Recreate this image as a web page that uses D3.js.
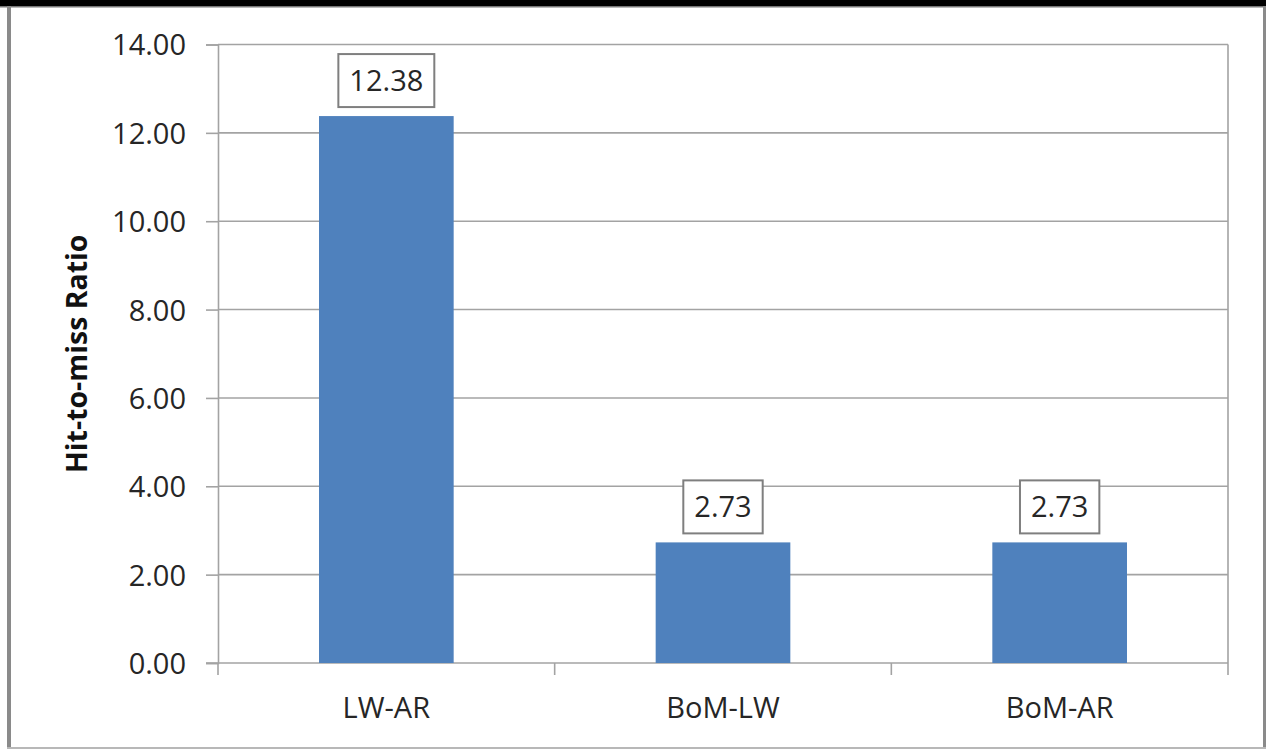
<!DOCTYPE html>
<html>
<head>
<meta charset="utf-8">
<script src="https://cdn.jsdelivr.net/npm/d3@7"></script>
<style>
  html, body { margin: 0; padding: 0; background: #fff; }
  svg { display: block; }
  text { font-family: "Open Sans", "DejaVu Sans", sans-serif; }
</style>
</head>
<body>
<svg id="chart" width="1266" height="749"></svg>
<script>
// ---- data ----
const categories = ["LW-AR", "BoM-LW", "BoM-AR"];
const values = [12.38, 2.73, 2.73];
const valueLabels = ["12.38", "2.73", "2.73"];
const yTicks = [0, 2, 4, 6, 8, 10, 12, 14];
const yTitle = "Hit-to-miss Ratio";

// ---- layout ----
const W = 1266, H = 749;
const plot = { left: 218, right: 1228, top: 44.5, bottom: 663 };
const svg = d3.select("#chart");

// outer frame
svg.append("rect").attr("x", 0).attr("y", 0).attr("width", W).attr("height", H).attr("fill", "#ffffff");
svg.append("rect").attr("x", 0).attr("y", 0).attr("width", W).attr("height", 6).attr("fill", "#000");
svg.append("rect").attr("x", 0).attr("y", 6).attr("width", W).attr("height", 1.5).attr("fill", "#777");
svg.append("rect").attr("x", 7).attr("y", 6).attr("width", 4).attr("height", H - 6).attr("fill", "#8a8a8a");
svg.append("rect").attr("x", 1263).attr("y", 6).attr("width", 3).attr("height", H - 6).attr("fill", "#8a8a8a");
svg.append("rect").attr("x", 7).attr("y", 747).attr("width", W - 7).attr("height", 2).attr("fill", "#b8b8b8");

const x = d3.scaleBand().domain(categories).range([plot.left, plot.right]).paddingInner(0.6).paddingOuter(0.3);
const xb = d3.scaleBand().domain(categories).range([plot.left, plot.right]);
const y = d3.scaleLinear().domain([0, 14]).range([plot.bottom, plot.top]);

const gridColor = "#a3a3a3";

// horizontal gridlines
svg.append("g").selectAll("line").data(yTicks.filter(d => d > 0)).join("line")
  .attr("x1", plot.left).attr("x2", plot.right)
  .attr("y1", d => y(d)).attr("y2", d => y(d))
  .attr("stroke", gridColor).attr("stroke-width", 1.6);

// right plot border
svg.append("line").attr("x1", plot.right).attr("x2", plot.right)
  .attr("y1", plot.top).attr("y2", plot.bottom)
  .attr("stroke", gridColor).attr("stroke-width", 1.6);

// y axis
const yAxis = d3.axisLeft(y).tickValues(yTicks).tickFormat(d3.format(".2f")).tickSize(12).tickPadding(20);
const gy = svg.append("g").attr("transform", `translate(${plot.left},0)`).call(yAxis);
gy.select(".domain").attr("stroke", gridColor).attr("stroke-width", 1.6);
gy.selectAll(".tick line").attr("stroke", gridColor).attr("stroke-width", 1.6);
gy.selectAll(".tick text").attr("fill", "#262626").style("font-size", "29px")
  .style("font-family", '"Open Sans", sans-serif').attr("dy", "0.36em");

// x axis (category boundaries as ticks)
const bounds = [plot.left].concat(categories.map(c => xb(c) + xb.bandwidth()));
svg.append("line").attr("x1", plot.left - 12).attr("x2", plot.right)
  .attr("y1", plot.bottom).attr("y2", plot.bottom)
  .attr("stroke", gridColor).attr("stroke-width", 1.6);
svg.append("g").selectAll("line").data(bounds).join("line")
  .attr("x1", d => d).attr("x2", d => d)
  .attr("y1", plot.bottom).attr("y2", plot.bottom + 12)
  .attr("stroke", gridColor).attr("stroke-width", 1.6);

const xAxis = d3.axisBottom(xb).tickSize(0).tickPadding(34);
const gx = svg.append("g").attr("transform", `translate(0,${plot.bottom})`).call(xAxis);
gx.select(".domain").remove();
gx.selectAll(".tick text").attr("fill", "#262626").style("font-size", "29px")
  .style("font-family", '"Open Sans", sans-serif');

// bars
svg.append("g").selectAll("rect").data(values).join("rect")
  .attr("x", (d, i) => x(categories[i]))
  .attr("width", x.bandwidth())
  .attr("y", d => y(d))
  .attr("height", d => y(0) - y(d))
  .attr("fill", "#4F81BD");

// value labels with boxes
const lg = svg.append("g").selectAll("g").data(values).join("g")
  .attr("transform", (d, i) => `translate(${x(categories[i]) + x.bandwidth() / 2},${y(d) - 9})`);
lg.each(function(d, i) {
  const g = d3.select(this);
  const t = g.append("text").text(valueLabels[i])
    .attr("text-anchor", "middle").attr("y", -16)
    .attr("fill", "#262626").style("font-size", "29px");
  const bw = t.node().getComputedTextLength() + 22;
  g.insert("rect", "text").attr("x", -bw / 2).attr("y", -53).attr("width", bw).attr("height", 53)
    .attr("fill", "#fff").attr("stroke", "#7f7f7f").attr("stroke-width", 2);
});

// y title
svg.append("text").text(yTitle)
  .attr("transform", `translate(87,${(plot.top + plot.bottom) / 2}) rotate(-90)`)
  .attr("text-anchor", "middle").attr("fill", "#111")
  .style("font-size", "28.5px").style("font-weight", "bold");
</script>
</body>
</html>
